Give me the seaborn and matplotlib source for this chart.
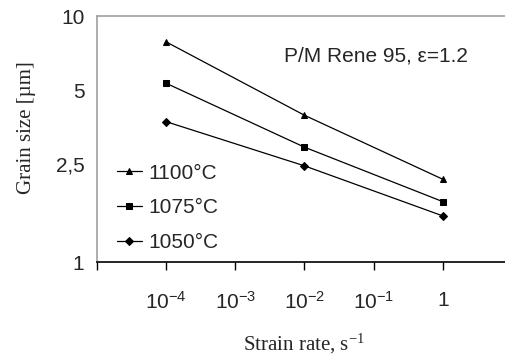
import matplotlib
matplotlib.use("Agg")
import matplotlib.pyplot as plt
import seaborn as sns
import pandas as pd

# --------------------------------------------
# Data
# --------------------------------------------
strain_rate = [1e-4, 1e-2, 1.0]
grain_1100 = [7.85, 3.95, 2.17]
grain_1075 = [5.33, 2.93, 1.76]
grain_1050 = [3.72, 2.46, 1.54]
temps = ["1100°C", "1075°C", "1050°C"]

x_ticks = [1e-5, 1e-4, 1e-3, 1e-2, 1e-1, 1.0]
x_tick_labels = ["", "$10^{-4}$", "$10^{-3}$", "$10^{-2}$", "$10^{-1}$", "1"]
y_ticks = [1, 2.5, 5, 10]
y_tick_labels = ["1", "2,5", "5", "10"]

rows = []
for temp, vals in zip(temps, [grain_1100, grain_1075, grain_1050]):
    for x, y in zip(strain_rate, vals):
        rows.append({"rate": x, "size": y, "temp": temp})
df = pd.DataFrame(rows)

# --------------------------------------------
# Style
# --------------------------------------------
sns.set_style("white")
plt.rcParams["font.family"] = ["Liberation Sans", "DejaVu Sans"]
plt.rcParams["mathtext.fontset"] = "custom"
plt.rcParams["mathtext.rm"] = "Liberation Sans"
plt.rcParams["mathtext.it"] = "Liberation Sans:italic"
plt.rcParams["mathtext.default"] = "regular"

fs = 15

fig = plt.figure(figsize=(5.05, 3.56), dpi=100)
ax = fig.add_axes([0.192, 0.264, 0.808, 0.691])

sns.lineplot(data=df, x="rate", y="size", hue="temp", style="temp",
             palette=["black"] * 3, markers={"1100°C": "^", "1075°C": "s", "1050°C": "D"},
             dashes=False, markersize=5, linewidth=0.9, markeredgecolor="black",
             hue_order=temps, style_order=temps, ax=ax)
# diamond a bit smaller
for line in ax.lines:
    if line.get_marker() == "D":
        line.set_markersize(4)

ax.set_xscale("log")
ax.set_yscale("log")
ax.set_xlim(1e-5, 10 ** 0.9)
ax.set_ylim(1, 10)

ax.set_xticks(x_ticks)
ax.set_xticklabels(x_tick_labels, fontsize=fs)
ax.xaxis.set_minor_locator(matplotlib.ticker.NullLocator())
ax.set_yticks(y_ticks)
ax.set_yticklabels(y_tick_labels, fontsize=fs)
ax.yaxis.set_minor_locator(matplotlib.ticker.NullLocator())
ax.tick_params(axis="x", direction="out", length=6, width=1, color="black", pad=15, bottom=True)
ax.tick_params(axis="y", length=0, pad=9)

for side in ["top", "left"]:
    ax.spines[side].set_color("#a0a0a0")
    ax.spines[side].set_linewidth(1.2)
ax.spines["bottom"].set_color("black")
ax.spines["bottom"].set_linewidth(1.2)
ax.spines["right"].set_visible(False)

ax.set_xlabel("Strain rate, s$^{\\mathregular{-1}}$", fontsize=fs,
              family="Liberation Serif", math_fontfamily="stix")
ax.set_ylabel("Grain size [µm]", fontsize=fs, family="Liberation Serif")
ax.xaxis.set_label_coords(0.507, -0.285)
ax.yaxis.set_label_coords(-0.15, 0.545)

ax.text(0.684, 0.837, "P/M Rene 95, ε=1.2", transform=ax.transAxes,
        fontsize=fs, ha="center", va="center")

leg = ax.legend(loc="center left", bbox_to_anchor=(0.049, 0.22), frameon=False,
                fontsize=fs, handlelength=1.2, handletextpad=0.3, labelspacing=0.75,
                borderpad=0, borderaxespad=0)

fig.savefig("out.png", dpi=100)
